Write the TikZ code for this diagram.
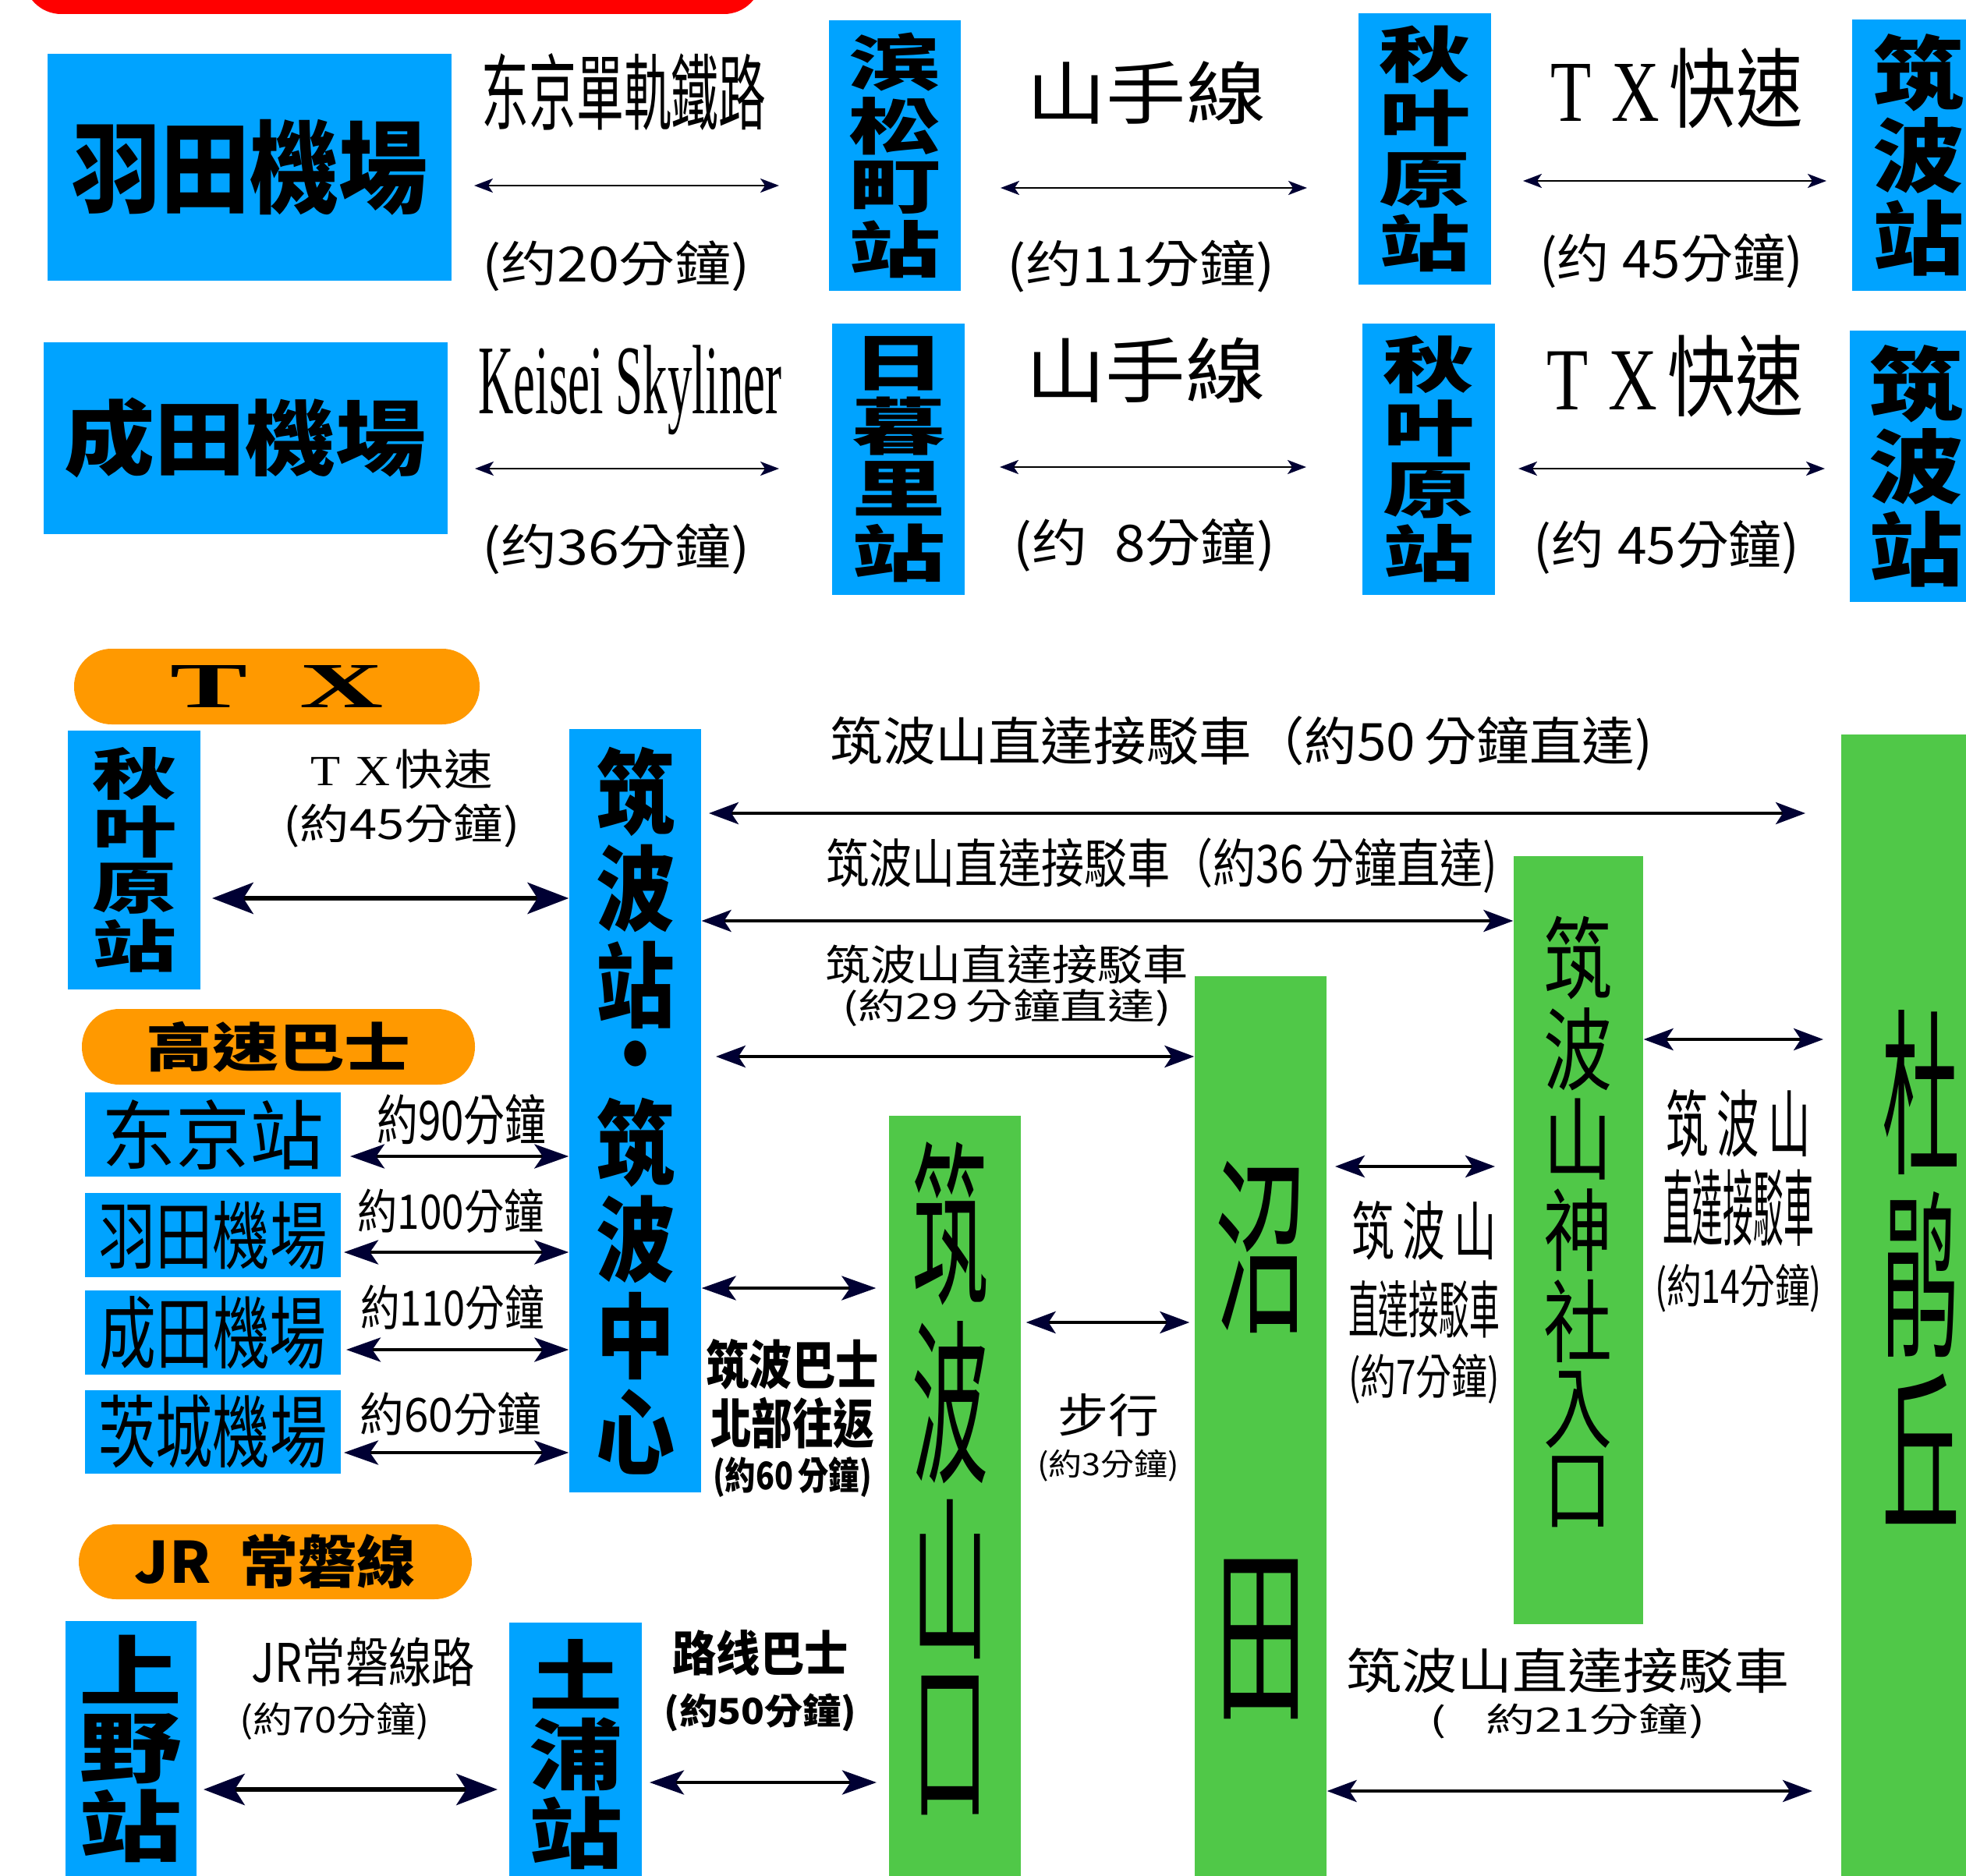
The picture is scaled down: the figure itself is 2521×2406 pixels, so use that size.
\documentclass[tikz,border=0pt]{standalone}
\usepackage{fontspec}
\usepackage{graphicx}
\setmainfont{Noto Sans CJK TC}
\newfontfamily\latinserif{Liberation Serif}
\XeTeXuseglyphmetrics=1
\usetikzlibrary{arrows.meta}
\newlength{\pxu}
\setlength{\pxu}{0.01cm}
\newcommand{\fit}[3]{\resizebox*{#1\pxu}{#2\pxu}{#3}}
\newcommand{\vtext}[1]{{\renewcommand{\arraystretch}{0.2}\begin{tabular}{@{}c@{}}#1\end{tabular}}}
\definecolor{stationblue}{RGB}{0,163,255}
\definecolor{stopgreen}{RGB}{80,200,72}
\definecolor{tagorange}{RGB}{255,153,0}
\definecolor{tipnavy}{RGB}{0,0,51}
\tikzset{
	mapnode/.style = {inner sep=0pt, text centered},
	boxsize/.style 2 args = {minimum width=#1\pxu, minimum height=#2\pxu},
	station/.style = {rectangle, mapnode, fill=stationblue},
	stop/.style = {rectangle, mapnode, fill=stopgreen},
	tag/.style = {rectangle, rounded corners=48\pxu, mapnode, fill=tagorange},
	note/.style = {align=center, inner sep=0pt},
	navyS/.tip = {Stealth[length=6.8pt, width=5.1pt, inset=1.7pt, color=tipnavy]},
	navyM/.tip = {Stealth[length=10.8pt, width=8pt, inset=2.6pt, color=tipnavy]},
	navyL/.tip = {Stealth[length=12.5pt, width=8.8pt, inset=3pt, color=tipnavy]},
	navyXL/.tip = {Stealth[length=15pt, width=11.4pt, inset=3.6pt, color=tipnavy]},
	rail/.style = {draw, line width=0.85pt, navyS-navyS},
	shuttle/.style = {draw, line width=1.1pt, navyM-navyM},
	coach/.style = {draw, line width=1.4pt, navyL-navyL},
	express/.style = {draw, line width=1.7pt, navyXL-navyXL}
}

\begin{document}
\begin{tikzpicture}[x=0.01cm, y=-0.01cm]
		\useasboundingbox (0,0) rectangle (2521,2406);
		%顶部红条
		\node (banner) [rectangle, mapnode, rounded corners=48\pxu, fill=red, boxsize={946}{96}] at (503.5,-30) {};

		%羽田機場一行
		\node (hnd) [station, boxsize={518}{291}] at (320,214.5) {\fit{456}{123}{\bfseries 羽田機場}};
		\node (hmc) [station, boxsize={169}{347}] at (1147.5,199.5) {\fit{118}{315}{\bfseries\vtext{滨\\[1.2pt]松\\[1.2pt]町\\[1.2pt]站}}};
		\node (akb1) [station, boxsize={170}{348}] at (1827,191) {\fit{117}{315}{\bfseries\vtext{秋\\[1.2pt]叶\\[1.2pt]原\\[1.2pt]站}}};
		\node (tsk1) [station, boxsize={170}{348}] at (2460,199) {\fit{117}{310}{\bfseries\vtext{筑\\[1pt]波\\[1pt]站}}};
		\node (monorail) at (800,118) {\fit{365}{99}{东京單軌鐵路}};
		\node (monotime) at (790,341) {\fit{344}{65}{(约20分鐘)}};
		\node (yam1) at (1470,119) {\fit{307}{81}{山手線}};
		\node (yam1time) at (1463,342) {\fit{344}{67}{(约11分鐘)}};
		\node (txa1) at (2150,113) {\fit{323}{103}{{\latinserif T\hspace{0.3em}X}\hspace{0.15em}快速}};
		\node (txa1time) at (2143,335) {\fit{338}{70}{(约\hspace{0.25em}45分鐘)}};
		\coordinate (monoL) at (608,238);
		\coordinate (monoR) at (999,238);
		\coordinate (yam1L) at (1283,241);
		\coordinate (yam1R) at (1676,241);
		\coordinate (txa1L) at (1953,232);
		\coordinate (txa1R) at (2342,232);
		\path [rail] (monoL) -- (monoR);
		\path [rail] (yam1L) -- (yam1R);
		\path [rail] (txa1L) -- (txa1R);

		%成田機場一行
		\node (nrt) [station, boxsize={518}{246}] at (315,562) {\fit{464}{103}{\bfseries 成田機場}};
		\node (nip) [station, boxsize={170}{348}] at (1152,589) {\fit{120}{316}{\bfseries\vtext{日\\[1.2pt]暮\\[1.2pt]里\\[1.2pt]站}}};
		\node (akb2) [station, boxsize={170}{348}] at (1832,589) {\fit{117}{316}{\bfseries\vtext{秋\\[1.2pt]叶\\[1.2pt]原\\[1.2pt]站}}};
		\node (tsk2) [station, boxsize={170}{348}] at (2457,598) {\fit{121}{310}{\bfseries\vtext{筑\\[1pt]波\\[1pt]站}}};
		\node (skyliner) at (808,500) {\fit{389}{115}{\latinserif Keisei Skyliner}};
		\node (skytime) at (790,704) {\fit{344}{65}{(约36分鐘)}};
		\node (yam2) at (1469,475) {\fit{308}{84}{山手線}};
		\node (yam2time) at (1467,699) {\fit{336}{68}{(约\hspace{0.5em}8分鐘)}};
		\node (txa2) at (2148,483) {\fit{329}{105}{{\latinserif T\hspace{0.3em}X}\hspace{0.15em}快速}};
		\node (txa2time) at (2137,702) {\fit{341}{69}{(约\hspace{0.25em}45分鐘)}};
		\coordinate (skyL) at (609,601);
		\coordinate (skyR) at (999,601);
		\coordinate (yam2L) at (1282,599);
		\coordinate (yam2R) at (1675,599);
		\coordinate (txa2L) at (1947,601);
		\coordinate (txa2R) at (2340,601);
		\path [rail] (skyL) -- (skyR);
		\path [rail] (yam2L) -- (yam2R);
		\path [rail] (txa2L) -- (txa2R);

		%TX 与高速巴士
		\node (tagtx) [tag, boxsize={520}{97}] at (355,880.5) {\fit{273}{54}{\latinserif\bfseries T\hspace{0.45em}X}};
		\node (akb3) [station, boxsize={170}{332}] at (172,1103) {\fit{108}{289}{\bfseries\vtext{秋\\[1.2pt]叶\\[1.2pt]原\\[1.2pt]站}}};
		\node (tkc) [station, boxsize={169}{979}] at (814.5,1424.5) {\fit{101}{933}{\bfseries\vtext{筑\\[1.2pt]波\\[1.2pt]站\\[0pt]\rule[-0.1em]{0pt}{0.75em}・\\[0pt]筑\\[1.2pt]波\\[1.2pt]中\\[1.2pt]心}}};
		\node (txb) [note] at (515,1024) {\fit{233}{51}{{\latinserif T\hspace{0.3em}X}\hspace{0.1em}快速}\\[15\pxu]\fit{303}{56}{(約45分鐘)}};
		\coordinate (txbL) at (272,1152);
		\path [express] (txbL) -- (txbL -| tkc.west);

		\node (tagbus) [tag, boxsize={504}{97}] at (357,1342.5) {\fit{339}{65}{\bfseries 高速巴士}};
		\node (tyo) [station, boxsize={328}{108}] at (273,1455) {\fit{285}{90}{东京站}};
		\node (hnd2) [station, boxsize={328}{108}] at (273,1584) {\fit{293}{88}{羽田機場}};
		\node (nrt2) [station, boxsize={328}{108}] at (273,1709) {\fit{291}{94}{成田機場}};
		\node (ibr) [station, boxsize={328}{107}] at (273,1836.5) {\fit{293}{94}{茨城機場}};
		\node (bus90) at (592,1436) {\fit{217}{65}{約90分鐘}};
		\node (bus100) at (578,1553) {\fit{239}{57}{約100分鐘}};
		\node (bus110) at (580,1677) {\fit{236}{58}{約110分鐘}};
		\node (bus60) at (578,1814) {\fit{233}{56}{約60分鐘}};
		\coordinate (bus90L) at (449,1483);
		\coordinate (bus100L) at (441,1606);
		\coordinate (bus110L) at (444,1731);
		\coordinate (bus60L) at (441,1863);
		\path [coach] (bus90L) -- (bus90L -| tkc.west);
		\path [coach] (bus100L) -- (bus100L -| tkc.west);
		\path [coach] (bus110L) -- (bus110L -| tkc.west);
		\path [coach] (bus60L) -- (bus60L -| tkc.west);

		%JR 常磐線
		\node (tagjr) [tag, boxsize={504}{96}] at (353,2003) {\fit{360}{70}{\bfseries JR\hspace{0.5em}常磐線}};
		\node (ueno) [station, boxsize={168}{328}] at (168,2243) {\fit{132}{292}{\bfseries\vtext{上\\[1pt]野\\[1pt]站}}};
		\node (tsu) [station, boxsize={170}{338}] at (738,2250) {\fit{120}{296}{\bfseries\vtext{土\\[1pt]浦\\[1pt]站}}};
		\node (jrline) at (466,2131) {\fit{286}{63}{JR常磐線路}};
		\node (jrtime) at (429,2208) {\fit{244}{48}{(約70分鐘)}};
		\node (localbus) [note] at (975,2155.5) {\fit{225}{59}{\bfseries 路线巴士}\\[19.5\pxu]\fit{247}{49}{\bfseries (約50分鐘)}};
		\coordinate (jrL) at (261,2295);
		\coordinate (jrR) at (638,2295);
		\coordinate (localL) at (833,2286);
		\coordinate (localR) at (1124,2286);
		\path [express] (jrL) -- (jrR);
		\path [coach] (localL) -- (localR);

		%筑波山方面
		\node (ykc) [stop, boxsize={169}{998}] at (1224.5,1930) {};
		\node (ykctext) at (1218,1898) {\fit{98}{867}{\vtext{筑\\[1pt]波\\[1pt]山\\[1pt]口}}};
		\node (numata) [stop, boxsize={169}{1190}] at (1616.5,1847) {\fit{117}{715}{\vtext{沼\\[12pt]田}}};
		\node (sjs) [stop, boxsize={166}{985}] at (2024,1590.5) {};
		\node (sjstext) at (2023,1568) {\fit{88}{786}{\vtext{筑\\[1pt]波\\[1pt]山\\[1pt]神\\[1pt]社\\[1pt]入\\[1pt]口}}};
		\node (tsj) [stop, boxsize={180}{1476}] at (2451,1680) {};
		\node (tsjtext) at (2463,1630) {\fit{100}{669}{\vtext{杜\\[1pt]鹃\\[1pt]丘}}};

		\node (northbus) [note] at (1016,1818.5) {\fit{221}{65}{\bfseries 筑波巴士}\\[6.5\pxu]\fit{210}{66}{\bfseries 北部往返}\\[6.5\pxu]\fit{204}{52}{\bfseries (約60\,分鐘)}};
		\node (dx50) at (1592,954) {\fit{1054}{70}{筑波山直達接駁車（約50\,分鐘直達)}};
		\node (dx36) at (1490,1110) {\fit{861}{71}{筑波山直達接駁車（約36\,分鐘直達)}};
		\node (dx29) [note] at (1291,1264.5) {\fit{465}{50}{筑波山直達接駁車}\\[3.5\pxu]\fit{421}{48}{(約29\,分鐘直達)}};
		\node (dx14) [note] at (2229,1540) {\fit{185}{87}{筑\hspace{0.2em}波\hspace{0.2em}山}\\[11.5\pxu]\fit{194}{99}{直達接駁車}\\[19.5\pxu]\fit{214}{62}{(約14分鐘)}};
		\node (dx7) [note] at (1826,1670) {\fit{186}{76}{筑\hspace{0.2em}波\hspace{0.2em}山}\\[22.5\pxu]\fit{194}{74}{直達接駁車}\\[16.5\pxu]\fit{194}{64}{(約7分鐘)}};
		\node (walk) [note] at (1421,1844) {\fit{130}{55}{步行}\\[12.5\pxu]\fit{182}{41}{(約3分鐘)}};
		\node (dx21) [note] at (2010,2171.5) {\fit{568}{58}{筑波山直達接駁車}\\[12.5\pxu]\fit{353}{45}{(\hspace{0.8em}約21分鐘)}};

		%连接
		\coordinate (northy) at (0,1652);
		\coordinate (dx50L) at (909,1043);
		\coordinate (dx50R) at (2315,1043);
		\coordinate (dx36y) at (0,1181);
		\coordinate (dx29L) at (918,1355);
		\coordinate (dx14R) at (2338,1333);
		\coordinate (dx7L) at (1712,1496);
		\coordinate (dx7R) at (1917,1496);
		\coordinate (walky) at (0,1696);
		\coordinate (dx21R) at (2324,2297);
		\path [coach, shorten >=16\pxu] (tkc.east |- northy) -- (ykc.west |- northy);
		\path [shuttle] (dx50L) -- (dx50R);
		\path [shuttle] (tkc.east |- dx36y) -- (sjs.west |- dx36y);
		\path [shuttle] (dx29L) -- (dx29L -| numata.west);
		\path [shuttle] (sjs.east |- dx14R) -- (dx14R);
		\path [shuttle] (dx7L) -- (dx7R);
		\path [shuttle, shorten <=6\pxu, shorten >=6\pxu] (ykc.east |- walky) -- (numata.west |- walky);
		\path [shuttle] (numata.east |- dx21R) -- (dx21R);
\end{tikzpicture}
\end{document}
